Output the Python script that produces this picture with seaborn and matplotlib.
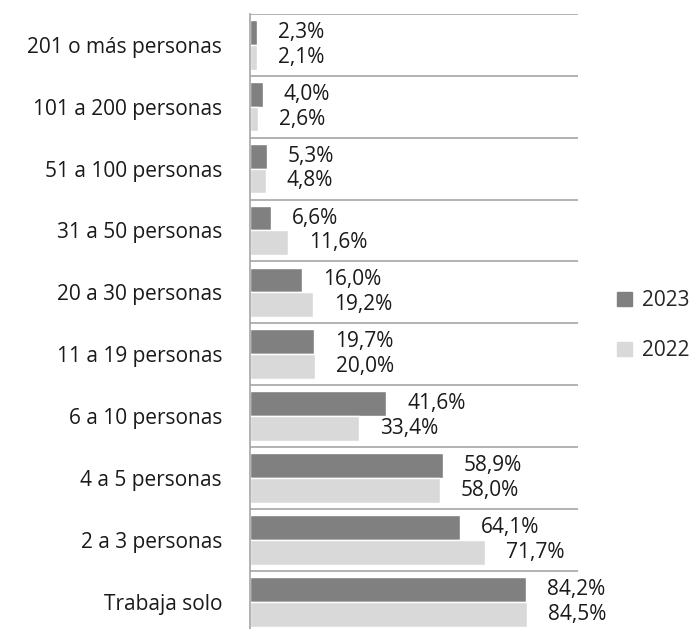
import pandas as pd
import matplotlib.pyplot as plt
import seaborn as sns
from matplotlib.patches import Patch

# ---------------- THEME & COLORS ----------------
sns.set_theme(style="white")
plt.rcParams["font.family"] = ["Open Sans", "DejaVu Sans"]

DARK = "#808080"
LIGHT = "#d9d9d9"
LINE = "#a6a6a6"

# ---------------- DATA ----------------
categories = [
    "201 o más personas", "101 a 200 personas", "51 a 100 personas",
    "31 a 50 personas", "20 a 30 personas", "11 a 19 personas",
    "6 a 10 personas", "4 a 5 personas", "2 a 3 personas", "Trabaja solo",
]
years = ["2023", "2022"]
values_2023 = [2.3, 4.0, 5.3, 6.6, 16.0, 19.7, 41.6, 58.9, 64.1, 84.2]
values_2022 = [2.1, 2.6, 4.8, 11.6, 19.2, 20.0, 33.4, 58.0, 71.7, 84.5]

df = pd.DataFrame({
    "categoria": categories * 2,
    "anio": ["2023"] * len(categories) + ["2022"] * len(categories),
    "valor": values_2023 + values_2022,
})

# ---------------- PLOT ----------------
fig = plt.figure(figsize=(6.96, 6.29), dpi=100)
ax = fig.add_axes([0.359, -0.006, 0.471, 0.984])

sns.barplot(
    data=df, y="categoria", x="valor", hue="anio",
    order=categories, hue_order=years,
    palette={"2023": DARK, "2022": LIGHT},
    orient="h", width=0.8, saturation=1, legend=False, ax=ax,
)

for container in ax.containers:
    labels = [f"{v:.1f}%".replace(".", ",") for v in container.datavalues]
    ax.bar_label(container, labels=labels, padding=15, fontsize=15, color="#1a1a1a")

ax.set_xlim(0, 100)
ax.set_ylim(len(categories) - 0.5, -0.5)
ax.set_xlabel("")
ax.set_ylabel("")
ax.set_xticks([])

for b in range(len(categories) + 1):
    ax.axhline(b - 0.5, color=LINE, linewidth=1.2, zorder=0)

for side in ["top", "right", "bottom"]:
    ax.spines[side].set_visible(False)
ax.spines["left"].set_color(LINE)
ax.spines["left"].set_linewidth(1.2)

ax.tick_params(axis="y", length=0, pad=20, labelsize=15, labelcolor="#1a1a1a")

handles = [Patch(color=DARK, label="2023"), Patch(color=LIGHT, label="2022")]
fig.legend(
    handles=handles, loc="center left", bbox_to_anchor=(0.866, 0.482),
    frameon=False, fontsize=15, handlelength=0.7, handleheight=0.7,
    handletextpad=0.5, labelspacing=1.4, borderpad=0.2,
)

fig.savefig("out.png", dpi=100)
